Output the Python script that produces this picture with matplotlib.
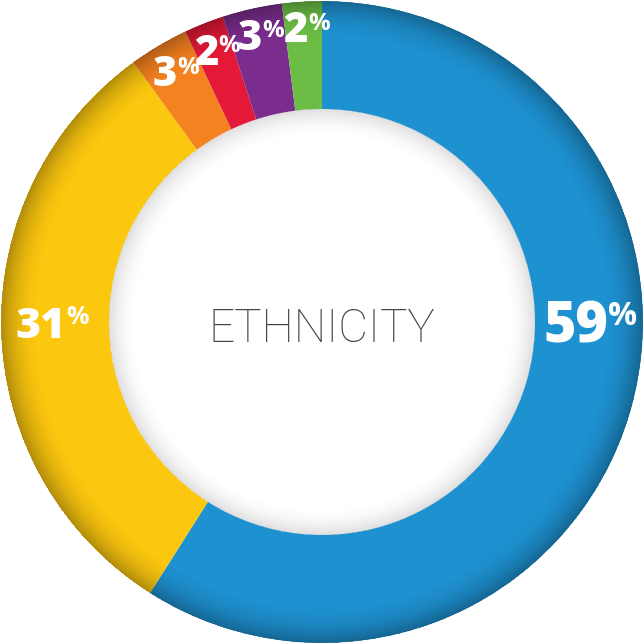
import numpy as np
import matplotlib.pyplot as plt

# slices go clockwise from 12 o'clock
shares = [59, 31, 3, 2, 3, 2]
colors = ['#1E91D0', '#FCC70F', '#F58220', '#E31937', '#7B2D8E', '#6BBD45']
center_label = 'ETHNICITY'

# label placement (pixels from centre, angle clockwise from top)
label_r = [254, 281, 296, 296, 296, 296]
label_ang = [90, 270, None, None, None, None]   # None -> middle of slice
label_size = [40, 31, 30, 30, 30, 30]

W = 644
cx, cy = 322, 322
R_out, R_in = 321, 213

fig = plt.figure(figsize=(6.44, 6.44), dpi=100)
ax = fig.add_axes([0, 0, 1, 1])

ax.pie(shares, colors=colors, startangle=90, counterclock=False,
       radius=R_out, center=(cx, cy), frame=True,
       wedgeprops=dict(width=R_out - R_in, linewidth=0))
ax.set_xlim(0, W)
ax.set_ylim(0, W)
ax.set_aspect('equal')
ax.axis('off')

# shading: dark rim on the outside of the ring, soft grey inside the hole
yy, xx = np.mgrid[0:W, 0:W] + 0.5
rr = np.hypot(xx - cx, yy - cy)
rgba = np.zeros((W, W, 4))
outer = np.clip((rr - 282) / (R_out - 282), 0, 1) ** 2 * 0.30
outer[rr > R_out] = 0
inner = np.clip(1 - (R_in - rr) / 30, 0, 1) ** 2 * 0.13
inner[rr > R_in] = 0
rgba[..., 3] = outer + inner
ax.imshow(rgba, extent=(0, W, 0, W), origin='lower', zorder=3, interpolation='bilinear')

ax.text(cx, cy - 7, center_label, ha='center', va='center', fontsize=33,
        family='Roboto', fontweight='light', color='#464646', zorder=5)

fig.canvas.draw()
renderer = fig.canvas.get_renderer()

bounds = np.concatenate([[0], np.cumsum(shares)]) / sum(shares) * 360
for i, v in enumerate(shares):
    ang = label_ang[i]
    if ang is None:
        ang = (bounds[i] + bounds[i + 1]) / 2 - 1.5
    a = np.deg2rad(ang)
    x = cx + label_r[i] * np.sin(a)
    y = cy + label_r[i] * np.cos(a)
    fs = label_size[i]
    cap = 0.72 * fs * 100 / 72
    base = y - cap / 2
    t = ax.text(x, base, str(v), ha='center', va='baseline', fontsize=fs,
                family='Open Sans', fontweight='heavy', color='white', zorder=6)
    bb = t.get_window_extent(renderer)
    pfs = fs * 0.58
    pcap = 0.72 * pfs * 100 / 72
    ax.text(bb.x1, base + cap - pcap, '%', ha='left', va='baseline',
            fontsize=pfs, family='Open Sans', fontweight='bold', color='white', zorder=6)

fig.savefig('out.png', dpi=100)
